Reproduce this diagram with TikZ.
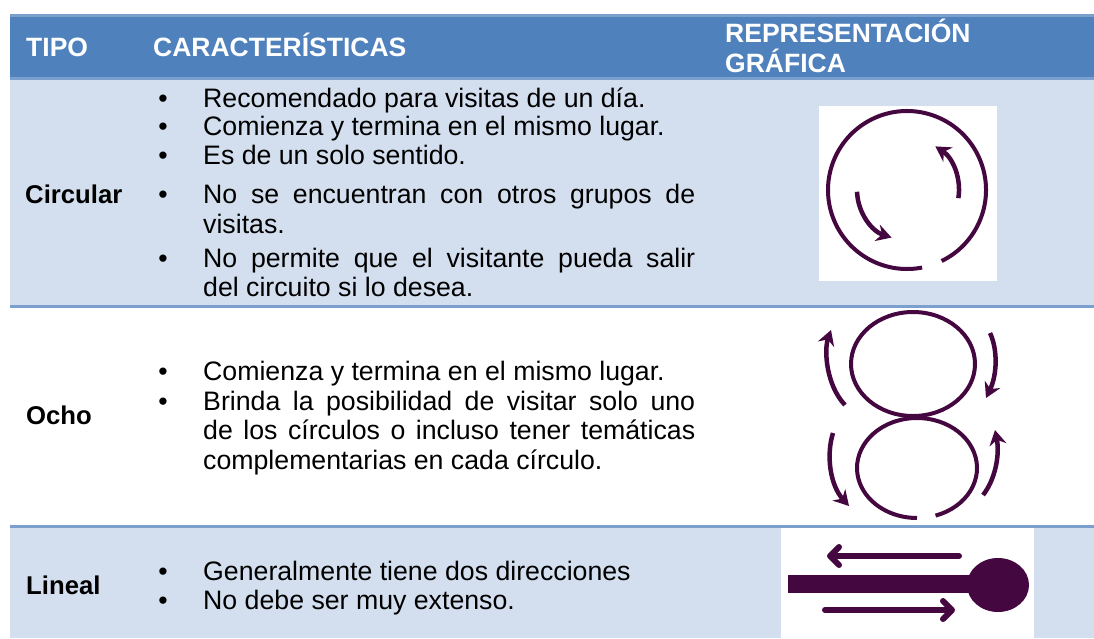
\documentclass[tikz,border=0pt]{standalone}
\usepackage{fontspec}
\setmainfont{Liberation Sans}
\usetikzlibrary{arrows.meta}
\definecolor{hdr}{HTML}{4F81BD}
\definecolor{hdrline}{HTML}{7BA0CD}
\definecolor{rowbg}{HTML}{D3DFEE}
\definecolor{plum}{HTML}{45073F}
\newcommand\justline[1]{\makebox[492pt][s]{#1}}
\begin{document}
\begin{tikzpicture}[x=1pt,y=-1pt,
  hdrtext/.style={anchor=base west, inner sep=0pt, text=white, font=\fontsize{26.5}{30}\selectfont\bfseries},
  lbl/.style={anchor=base west, inner sep=0pt, font=\fontsize{25.7}{30}\selectfont\bfseries},
  body/.style={anchor=base west, inner sep=0pt, font=\fontsize{26.7}{30}\selectfont},
  bul/.style={anchor=base, inner sep=0pt, font=\fontsize{26.7}{30}\selectfont},
  pline/.style={draw=plum, line width=4pt},
  parrow/.style={draw=plum, line width=4.5pt, -{Stealth[length=15pt,width=17pt,inset=5pt]}},
  larrow/.style={draw=plum, line width=6pt, line cap=round, -{Straight Barb[length=9pt,width=18pt,line cap=round,line join=round]}}
]
% canvas
\fill[white] (0,0) rectangle (1094,638);
\useasboundingbox (0,0) rectangle (1094,638);
% header
\fill[hdrline] (10,14) rectangle (1094,80);
\fill[hdr] (10,17) rectangle (1094,77);
% rows
\fill[rowbg] (10,80) rectangle (1094,305);
\fill[hdrline] (10,305) rectangle (1094,308);
\fill[hdrline] (10,525) rectangle (1094,528);
\fill[rowbg] (10,528) rectangle (1094,638);
% white picture boxes
\fill[white] (819,106) rectangle (997,281);
\fill[white] (781,528) rectangle (1034,638);

% header text
\node[hdrtext] (hTipo) at (26,56) {TIPO};
\node[hdrtext] (hCar) at (153,56) {CARACTERÍSTICAS};
\node[hdrtext] (hRep1) at (725,42) {REPRESENTACIÓN};
\node[hdrtext] (hRep2) at (725,72) {GRÁFICA};

% row labels
\node[lbl] (lCirc) at (25,203) {Circular};
\node[lbl] (lOcho) at (26,424) {Ocho};
\node[lbl] (lLin) at (26,594) {Lineal};

% row 1 text
\node[bul] (b11) at (163,107) {•};
\node[body] (t11) at (203,107) {Recomendado para visitas de un día.};
\node[bul] (b12) at (163,135) {•};
\node[body] (t12) at (203,135) {Comienza y termina en el mismo lugar.};
\node[bul] (b13) at (163,164) {•};
\node[body] (t13) at (203,164) {Es de un solo sentido.};
\node[bul] (b14) at (163,203) {•};
\node[body] (t14) at (203,203) {\justline{No se encuentran con otros grupos de}};
\node[body] (t15) at (203,233) {visitas.};
\node[bul] (b16) at (163,267) {•};
\node[body] (t16) at (203,267) {\justline{No permite que el visitante pueda salir}};
\node[body] (t17) at (203,296) {del circuito si lo desea.};

% row 2 text
\node[bul] (b21) at (163,380) {•};
\node[body] (t21) at (203,380) {Comienza y termina en el mismo lugar.};
\node[bul] (b22) at (163,410) {•};
\node[body] (t22) at (203,410) {\justline{Brinda la posibilidad de visitar solo uno}};
\node[body] (t23) at (203,439) {\justline{de los círculos o incluso tener temáticas}};
\node[body] (t24) at (203,469) {complementarias en cada círculo.};

% row 3 text
\node[bul] (b31) at (163,580) {•};
\node[body] (t31) at (203,580) {Generalmente tiene dos direcciones};
\node[bul] (b32) at (163,609) {•};
\node[body] (t32) at (203,609) {No debe ser muy extenso.};

% circular graphic
\coordinate (cc) at (907,190);
\draw[pline] (cc) ++(64:79) arc[start angle=64, end angle=-281, radius=79];
\draw[parrow] (cc) ++(9:52) arc[start angle=9, end angle=-57, radius=52];
\draw[parrow] (cc) ++(-182:50) arc[start angle=-182, end angle=-252, radius=50];

% ocho graphic
\draw[pline] (913,364) ellipse[x radius=62, y radius=52];
\coordinate (oc) at (917,468);
\draw[pline] (oc) ++(72:60 and 50) arc[start angle=72, end angle=-270, x radius=60, y radius=50];
\draw[parrow] (845,405) .. controls (826,385) and (824,350) .. (831,330);
\draw[parrow] (990,333) .. controls (998,350) and (997,375) .. (986,398);
\draw[parrow] (833,433) .. controls (826,455) and (830,485) .. (849,506);
\draw[parrow] (983,495) .. controls (995,480) and (1000,455) .. (995,430);

% lineal graphic
\fill[plum] (788,575) rectangle (975,593);
\fill[plum] (998,585) ellipse[x radius=31, y radius=27];
\draw[larrow] (959,556) -- (827,556);
\draw[larrow] (825,610) -- (955,610);
\end{tikzpicture}
\end{document}
